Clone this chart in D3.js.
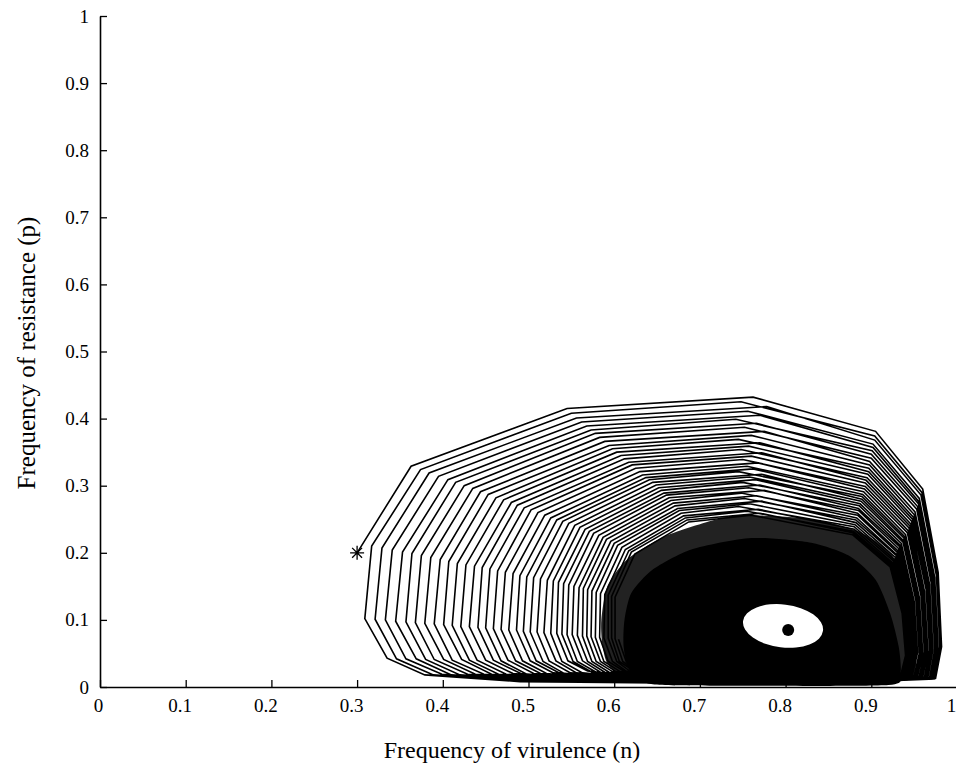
<!DOCTYPE html>
<html>
<head>
<meta charset="utf-8">
<script src="https://cdn.jsdelivr.net/npm/d3@7"></script>
<style>
  body { margin: 0; background: #fff; }
  svg { display: block; }
</style>
</head>
<body>
<div id="chart"></div>
<script>
// valori (n = virulenza, p = resistenza)
var ticksX = [0, 0.1, 0.2, 0.3, 0.4, 0.5, 0.6, 0.7, 0.8, 0.9, 1];
var ticksY = [0, 0.1, 0.2, 0.3, 0.4, 0.5, 0.6, 0.7, 0.8, 0.9, 1];
var tickLabels = ["0", "0.1", "0.2", "0.3", "0.4", "0.5", "0.6", "0.7", "0.8", "0.9", "1"];

var startPoint = [0.30, 0.20];
var equilibrium = [0.803, 0.085];
// buco bianco intorno all'equilibrio: centro, raggi (in unità dati)
var eyeCenter = [0.797, 0.091];
var eyeRadii = [0.047, 0.032];

// giri della traiettoria, uno per riga (dall'esterno verso l'interno)
var loops = [
  [[.363,.329],[.545,.415],[.762,.432],[.905,.381],[.960,.295],[.978,.171],[.982,.060],[.975,.013],[.850,.004],[.490,.008],[.379,.018],[.335,.043],[.309,.102]],
  [[.317,.210],[.374,.324],[.550,.408],[.748,.425],[.904,.374],[.959,.290],[.977,.168],[.981,.059],[.974,.012],[.820,.004],[.497,.008],[.389,.018],[.346,.042],[.321,.101]],
  [[.329,.207],[.384,.319],[.556,.401],[.778,.418],[.904,.368],[.958,.286],[.976,.166],[.980,.059],[.973,.013],[.870,.005],[.505,.009],[.399,.019],[.357,.042],[.333,.100]],
  [[.341,.204],[.395,.314],[.562,.395],[.756,.411],[.902,.362],[.956,.281],[.974,.163],[.978,.058],[.972,.013],[.835,.005],[.512,.009],[.410,.018],[.369,.042],[.345,.098]],
  [[.353,.201],[.406,.309],[.568,.389],[.770,.405],[.902,.357],[.955,.277],[.973,.161],[.977,.057],[.971,.013],[.860,.005],[.519,.009],[.420,.018],[.380,.041],[.357,.097]],
  [[.364,.199],[.415,.305],[.573,.383],[.742,.399],[.901,.352],[.955,.273],[.972,.159],[.976,.057],[.970,.014],[.825,.006],[.526,.010],[.429,.019],[.390,.041],[.368,.096]],
  [[.375,.196],[.425,.300],[.578,.378],[.766,.393],[.900,.347],[.954,.269],[.971,.157],[.975,.056],[.969,.014],[.850,.006],[.532,.010],[.438,.019],[.401,.041],[.379,.095]],
  [[.386,.193],[.435,.296],[.583,.372],[.752,.387],[.900,.341],[.953,.265],[.970,.155],[.974,.056],[.968,.014],[.872,.006],[.539,.010],[.448,.019],[.411,.040],[.390,.094]],
  [[.397,.190],[.444,.291],[.589,.366],[.775,.381],[.898,.336],[.951,.261],[.968,.153],[.972,.056],[.966,.014],[.830,.007],[.545,.011],[.457,.019],[.422,.041],[.401,.093]],
  [[.407,.187],[.453,.287],[.594,.360],[.760,.375],[.898,.331],[.950,.257],[.967,.151],[.971,.055],[.965,.014],[.855,.007],[.551,.011],[.465,.019],[.431,.040],[.411,.092]],
  [[.417,.184],[.462,.282],[.598,.355],[.745,.369],[.897,.326],[.949,.253],[.966,.148],[.970,.054],[.964,.014],[.840,.007],[.557,.011],[.474,.019],[.440,.040],[.421,.090]],
  [[.427,.182],[.471,.279],[.603,.350],[.770,.364],[.897,.321],[.948,.250],[.965,.147],[.969,.054],[.963,.015],[.865,.008],[.563,.012],[.482,.020],[.450,.040],[.431,.090]],
  [[.437,.180],[.480,.275],[.608,.345],[.757,.359],[.896,.317],[.947,.247],[.964,.145],[.968,.054],[.962,.015],[.825,.008],[.569,.012],[.491,.020],[.459,.040],[.441,.089]],
  [[.446,.178],[.487,.271],[.612,.340],[.748,.354],[.895,.312],[.946,.243],[.962,.143],[.966,.053],[.960,.015],[.850,.008],[.575,.011],[.498,.019],[.468,.039],[.450,.088]],
  [[.455,.176],[.495,.267],[.617,.335],[.772,.349],[.894,.308],[.945,.240],[.961,.142],[.965,.053],[.959,.016],[.870,.009],[.580,.012],[.506,.020],[.476,.040],[.459,.087]],
  [[.464,.173],[.503,.264],[.621,.331],[.760,.344],[.893,.304],[.944,.237],[.960,.140],[.964,.053],[.958,.016],[.835,.009],[.586,.012],[.514,.020],[.485,.039],[.468,.086]],
  [[.473,.171],[.511,.260],[.625,.326],[.750,.339],[.893,.299],[.943,.233],[.959,.138],[.963,.052],[.957,.016],[.860,.009],[.591,.012],[.521,.020],[.493,.039],[.477,.085]],
  [[.482,.169],[.519,.256],[.630,.321],[.768,.334],[.892,.295],[.942,.230],[.958,.136],[.962,.052],[.956,.016],[.830,.010],[.596,.013],[.529,.021],[.502,.039],[.486,.085]],
  [[.490,.166],[.526,.252],[.633,.316],[.755,.329],[.891,.291],[.940,.227],[.956,.134],[.960,.051],[.954,.016],[.855,.010],[.601,.013],[.536,.021],[.509,.039],[.494,.083]],
  [[.498,.164],[.533,.249],[.637,.312],[.762,.325],[.890,.287],[.939,.224],[.955,.133],[.959,.051],[.953,.016],[.840,.010],[.606,.013],[.542,.020],[.517,.038],[.502,.082]],
  [[.506,.163],[.540,.247],[.641,.309],[.745,.321],[.889,.284],[.938,.222],[.954,.132],[.958,.051],[.952,.017],[.865,.011],[.611,.014],[.549,.021],[.524,.039],[.510,.082]],
  [[.514,.161],[.547,.244],[.645,.305],[.772,.317],[.889,.280],[.937,.219],[.953,.130],[.957,.051],[.951,.017],[.830,.011],[.616,.014],[.556,.021],[.532,.039],[.518,.081]],
  [[.522,.159],[.554,.241],[.649,.301],[.758,.313],[.888,.277],[.937,.216],[.952,.129],[.956,.050],[.950,.017],[.850,.011],[.620,.014],[.563,.021],[.539,.038],[.526,.080]],
  [[.529,.158],[.560,.238],[.652,.297],[.765,.309],[.887,.273],[.935,.214],[.950,.128],[.954,.051],[.948,.018],[.860,.012],[.625,.015],[.569,.024],[.546,.039],[.533,.080]],
  [[.535,.156],[.566,.235],[.655,.293],[.750,.305],[.886,.270],[.934,.211],[.949,.126],[.953,.050],[.947,.018],[.835,.012],[.628,.015],[.574,.022],[.552,.038],[.539,.079]],
  [[.541,.154],[.571,.232],[.658,.289],[.770,.301],[.885,.266],[.933,.209],[.948,.125],[.952,.050],[.946,.018],[.860,.012],[.632,.015],[.579,.022],[.557,.038],[.545,.078]],
  [[.547,.152],[.576,.229],[.661,.286],[.757,.297],[.885,.263],[.932,.206],[.947,.124],[.951,.050],[.945,.019],[.840,.013],[.635,.016],[.584,.022],[.563,.039],[.551,.078]],
  [[.553,.150],[.582,.226],[.664,.282],[.775,.293],[.884,.259],[.931,.203],[.946,.122],[.950,.049],[.944,.019],[.865,.013],[.639,.016],[.589,.022],[.569,.038],[.557,.077]],
  [[.559,.148],[.587,.223],[.666,.278],[.748,.289],[.884,.256],[.930,.201],[.945,.121],[.949,.049],[.943,.019],[.845,.013],[.643,.016],[.594,.022],[.574,.038],[.563,.076]],
  [[.564,.147],[.591,.220],[.669,.274],[.766,.285],[.883,.252],[.929,.198],[.944,.120],[.948,.049],[.942,.019],[.855,.014],[.646,.017],[.598,.023],[.579,.038],[.568,.076]],
  [[.569,.145],[.596,.217],[.671,.270],[.752,.281],[.882,.249],[.929,.196],[.943,.118],[.947,.049],[.941,.019],[.838,.014],[.649,.017],[.602,.023],[.584,.038],[.573,.075]],
  [[.574,.143],[.600,.214],[.674,.266],[.772,.277],[.882,.245],[.928,.193],[.942,.117],[.946,.048],[.940,.019],[.862,.014],[.652,.017],[.607,.023],[.588,.038],[.578,.074]],
  [[.579,.141],[.604,.211],[.676,.263],[.758,.273],[.881,.242],[.927,.190],[.941,.116],[.945,.049],[.939,.020],[.848,.015],[.655,.018],[.611,.024],[.593,.038],[.583,.074]],
  [[.584,.139],[.609,.208],[.678,.259],[.745,.269],[.880,.239],[.926,.188],[.940,.114],[.944,.048],[.939,.020],[.858,.015],[.658,.018],[.615,.023],[.598,.038],[.588,.073]],
  [[.589,.138],[.613,.205],[.681,.255],[.768,.265],[.880,.235],[.925,.185],[.939,.113],[.943,.048],[.938,.020],[.842,.015],[.661,.018],[.619,.023],[.603,.038],[.593,.073]],
  [[.593,.137],[.617,.203],[.683,.252],[.755,.262],[.879,.232],[.924,.183],[.938,.112],[.942,.048],[.937,.021],[.852,.016],[.663,.018],[.623,.024],[.606,.038],[.597,.073]],
  [[.597,.135],[.620,.201],[.685,.249],[.770,.259],[.878,.230],[.923,.181],[.937,.111],[.941,.048],[.936,.021],[.845,.016],[.665,.018],[.626,.024],[.610,.038],[.601,.072]],
  [[.601,.134],[.624,.198],[.687,.246],[.760,.256],[.878,.227],[.922,.179],[.936,.110],[.940,.047],[.935,.021],[.850,.016],[.668,.018],[.629,.024],[.614,.038],[.605,.071]]
];

// zona fitta (linee molto vicine) e zona tutta nera vicino all'equilibrio
var denseBand = [[.585,.100],[.592,.150],[.615,.190],[.660,.225],[.720,.250],[.760,.256],[.830,.250],[.885,.232],
  [.922,.200],[.942,.150],[.950,.090],[.952,.030],[.942,.010],[.850,.006],[.660,.008],[.610,.015],[.592,.035],[.586,.065]];
var denseCore = [[.612,.100],[.620,.140],[.645,.175],[.690,.205],[.760,.222],[.830,.215],[.875,.195],[.905,.160],
  [.922,.110],[.932,.060],[.934,.020],[.920,.003],[.750,.002],[.645,.004],[.618,.025],[.611,.060]];

var width = 956;
var height = 768;
var fontSerif = "'Liberation Serif', 'Times New Roman', Times, serif";

var svg = d3.select("#chart")
            .append("svg")
            .attr("width", width)
            .attr("height", height)
            .attr("font-family", fontSerif);

var x = d3.scaleLinear().domain([0, 1]).range([100, 957]);
var y = d3.scaleLinear().domain([0, 1]).range([687, 16]);

var line = d3.line()
             .x(function(d) { return x(d[0]); })
             .y(function(d) { return y(d[1]); });

var smooth = d3.line()
               .x(function(d) { return x(d[0]); })
               .y(function(d) { return y(d[1]); })
               .curve(d3.curveCardinalClosed.tension(0.3));

// riempimenti della parte densa
svg.append("path")
   .datum(denseBand)
   .attr("d", smooth)
   .attr("fill", "#222");

svg.append("path")
   .datum(denseCore)
   .attr("d", smooth)
   .attr("fill", "#000");

// traiettoria: dal punto iniziale attraverso tutti i giri
var traj = [startPoint];
loops.forEach(function(l) { traj = traj.concat(l); });

svg.append("path")
   .datum(traj)
   .attr("d", line)
   .attr("fill", "none")
   .attr("stroke", "#000")
   .attr("stroke-width", 1.6)
   .attr("stroke-linejoin", "miter");

// buco bianco e punto di equilibrio
var ecx = x(eyeCenter[0]), ecy = y(eyeCenter[1]);
svg.append("ellipse")
   .attr("cx", ecx)
   .attr("cy", ecy)
   .attr("rx", x(eyeCenter[0] + eyeRadii[0]) - ecx)
   .attr("ry", ecy - y(eyeCenter[1] + eyeRadii[1]))
   .attr("transform", "rotate(7," + ecx + "," + ecy + ")")
   .attr("fill", "#fff");

svg.append("circle")
   .attr("cx", x(equilibrium[0]))
   .attr("cy", y(equilibrium[1]))
   .attr("r", 6)
   .attr("fill", "#000");

// asterisco del punto iniziale
var sx = x(startPoint[0]), sy = y(startPoint[1]), r = 7;
var star = d3.path();
[0, 45, 90, 135].forEach(function(a) {
    var rad = a * Math.PI / 180;
    star.moveTo(sx - r * Math.cos(rad), sy - r * Math.sin(rad));
    star.lineTo(sx + r * Math.cos(rad), sy + r * Math.sin(rad));
});
svg.append("path")
   .attr("d", star.toString())
   .attr("stroke", "#000")
   .attr("stroke-width", 1.3)
   .attr("fill", "none");

// assi
var xAxis = d3.axisBottom(x)
              .tickValues(ticksX)
              .tickFormat(function(d, i) { return tickLabels[i]; })
              .tickSizeInner(-7)
              .tickSizeOuter(0)
              .tickPadding(12);

var yAxis = d3.axisLeft(y)
              .tickValues(ticksY)
              .tickFormat(function(d, i) { return tickLabels[i]; })
              .tickSizeInner(-7)
              .tickSizeOuter(0)
              .tickPadding(11);

var gx = svg.append("g")
            .attr("transform", "translate(0," + y(0) + ")")
            .call(xAxis)
            .attr("font-family", fontSerif)
            .attr("font-size", 19);

var gy = svg.append("g")
            .attr("transform", "translate(" + x(0) + ",0)")
            .call(yAxis)
            .attr("font-family", fontSerif)
            .attr("font-size", 19);

[gx, gy].forEach(function(g) {
    g.select(".domain").attr("stroke", "#000").attr("stroke-width", 1.6);
    g.selectAll(".tick line").attr("stroke", "#000").attr("stroke-width", 1.3);
    g.selectAll(".tick text").attr("fill", "#000");
});

gx.selectAll(".tick text").attr("dx", function(d) { return d === 0 ? -2 : -6; });

// titoli degli assi
svg.append("text")
   .attr("x", 512)
   .attr("y", 758)
   .attr("text-anchor", "middle")
   .attr("font-size", 24)
   .text("Frequency of virulence (n)");

svg.append("text")
   .attr("transform", "translate(35,353) rotate(-90)")
   .attr("text-anchor", "middle")
   .attr("font-size", 25)
   .text("Frequency of resistance (p)");
</script>
</body>
</html>
